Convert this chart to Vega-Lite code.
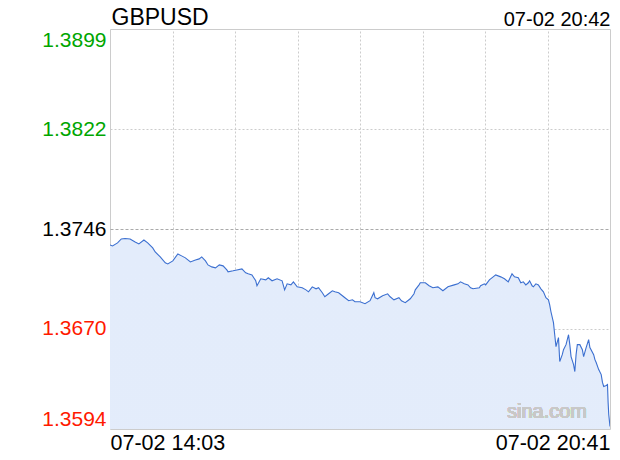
{
  "$schema": "https://vega.github.io/schema/vega-lite/v6.json",
  "autosize": {"type": "none"},
  "width": 500,
  "height": 400,
  "padding": {"left": 110, "top": 29, "right": 10, "bottom": 31},
  "background": "white",
  "config": {
    "font": "Liberation Sans",
    "view": {"stroke": "#cccccc", "strokeWidth": 1}
  },
  "data": {
    "values": [
      {"t": "2021-07-02T14:03", "v": 1.37338},
      {"t": "2021-07-02T14:05", "v": 1.37331},
      {"t": "2021-07-02T14:09", "v": 1.37354},
      {"t": "2021-07-02T14:12", "v": 1.37384},
      {"t": "2021-07-02T14:15", "v": 1.37388},
      {"t": "2021-07-02T14:19", "v": 1.37384},
      {"t": "2021-07-02T14:23", "v": 1.37361},
      {"t": "2021-07-02T14:26", "v": 1.37346},
      {"t": "2021-07-02T14:30", "v": 1.37376},
      {"t": "2021-07-02T14:33", "v": 1.37354},
      {"t": "2021-07-02T14:37", "v": 1.37316},
      {"t": "2021-07-02T14:39", "v": 1.37285},
      {"t": "2021-07-02T14:43", "v": 1.37247},
      {"t": "2021-07-02T14:47", "v": 1.37202},
      {"t": "2021-07-02T14:49", "v": 1.37194},
      {"t": "2021-07-02T14:53", "v": 1.37217},
      {"t": "2021-07-02T14:57", "v": 1.3727},
      {"t": "2021-07-02T15:00", "v": 1.37255},
      {"t": "2021-07-02T15:03", "v": 1.3724},
      {"t": "2021-07-02T15:07", "v": 1.37209},
      {"t": "2021-07-02T15:11", "v": 1.37224},
      {"t": "2021-07-02T15:14", "v": 1.37232},
      {"t": "2021-07-02T15:16", "v": 1.37247},
      {"t": "2021-07-02T15:19", "v": 1.37217},
      {"t": "2021-07-02T15:21", "v": 1.37186},
      {"t": "2021-07-02T15:24", "v": 1.37171},
      {"t": "2021-07-02T15:27", "v": 1.37164},
      {"t": "2021-07-02T15:30", "v": 1.37186},
      {"t": "2021-07-02T15:33", "v": 1.37179},
      {"t": "2021-07-02T15:36", "v": 1.37148},
      {"t": "2021-07-02T15:37", "v": 1.37133},
      {"t": "2021-07-02T15:41", "v": 1.37141},
      {"t": "2021-07-02T15:44", "v": 1.37148},
      {"t": "2021-07-02T15:48", "v": 1.37156},
      {"t": "2021-07-02T15:51", "v": 1.37126},
      {"t": "2021-07-02T15:53", "v": 1.37118},
      {"t": "2021-07-02T15:56", "v": 1.3711},
      {"t": "2021-07-02T15:59", "v": 1.37065},
      {"t": "2021-07-02T16:00", "v": 1.37027},
      {"t": "2021-07-02T16:03", "v": 1.3708},
      {"t": "2021-07-02T16:07", "v": 1.37072},
      {"t": "2021-07-02T16:09", "v": 1.37088},
      {"t": "2021-07-02T16:12", "v": 1.37065},
      {"t": "2021-07-02T16:16", "v": 1.3708},
      {"t": "2021-07-02T16:20", "v": 1.37065},
      {"t": "2021-07-02T16:22", "v": 1.36996},
      {"t": "2021-07-02T16:24", "v": 1.37042},
      {"t": "2021-07-02T16:27", "v": 1.37034},
      {"t": "2021-07-02T16:29", "v": 1.37057},
      {"t": "2021-07-02T16:32", "v": 1.37019},
      {"t": "2021-07-02T16:36", "v": 1.37012},
      {"t": "2021-07-02T16:39", "v": 1.36996},
      {"t": "2021-07-02T16:41", "v": 1.36981},
      {"t": "2021-07-02T16:44", "v": 1.37019},
      {"t": "2021-07-02T16:47", "v": 1.37004},
      {"t": "2021-07-02T16:49", "v": 1.37012},
      {"t": "2021-07-02T16:52", "v": 1.36974},
      {"t": "2021-07-02T16:54", "v": 1.36943},
      {"t": "2021-07-02T16:57", "v": 1.36966},
      {"t": "2021-07-02T17:00", "v": 1.36989},
      {"t": "2021-07-02T17:02", "v": 1.36981},
      {"t": "2021-07-02T17:05", "v": 1.36974},
      {"t": "2021-07-02T17:08", "v": 1.36951},
      {"t": "2021-07-02T17:10", "v": 1.36936},
      {"t": "2021-07-02T17:13", "v": 1.36913},
      {"t": "2021-07-02T17:16", "v": 1.3692},
      {"t": "2021-07-02T17:18", "v": 1.36905},
      {"t": "2021-07-02T17:22", "v": 1.36905},
      {"t": "2021-07-02T17:26", "v": 1.3689},
      {"t": "2021-07-02T17:30", "v": 1.36913},
      {"t": "2021-07-02T17:33", "v": 1.36974},
      {"t": "2021-07-02T17:34", "v": 1.36936},
      {"t": "2021-07-02T17:36", "v": 1.36928},
      {"t": "2021-07-02T17:40", "v": 1.36951},
      {"t": "2021-07-02T17:44", "v": 1.36966},
      {"t": "2021-07-02T17:46", "v": 1.36943},
      {"t": "2021-07-02T17:49", "v": 1.3692},
      {"t": "2021-07-02T17:53", "v": 1.36936},
      {"t": "2021-07-02T17:55", "v": 1.36913},
      {"t": "2021-07-02T17:58", "v": 1.36898},
      {"t": "2021-07-02T18:00", "v": 1.36913},
      {"t": "2021-07-02T18:02", "v": 1.36928},
      {"t": "2021-07-02T18:05", "v": 1.36966},
      {"t": "2021-07-02T18:06", "v": 1.36996},
      {"t": "2021-07-02T18:09", "v": 1.37034},
      {"t": "2021-07-02T18:10", "v": 1.3705},
      {"t": "2021-07-02T18:14", "v": 1.3705},
      {"t": "2021-07-02T18:17", "v": 1.37027},
      {"t": "2021-07-02T18:20", "v": 1.37012},
      {"t": "2021-07-02T18:24", "v": 1.37019},
      {"t": "2021-07-02T18:28", "v": 1.36989},
      {"t": "2021-07-02T18:32", "v": 1.37019},
      {"t": "2021-07-02T18:37", "v": 1.37034},
      {"t": "2021-07-02T18:40", "v": 1.37042},
      {"t": "2021-07-02T18:42", "v": 1.37057},
      {"t": "2021-07-02T18:45", "v": 1.37042},
      {"t": "2021-07-02T18:48", "v": 1.37034},
      {"t": "2021-07-02T18:50", "v": 1.37012},
      {"t": "2021-07-02T18:52", "v": 1.37004},
      {"t": "2021-07-02T18:57", "v": 1.37012},
      {"t": "2021-07-02T18:58", "v": 1.37027},
      {"t": "2021-07-02T19:01", "v": 1.37042},
      {"t": "2021-07-02T19:02", "v": 1.37034},
      {"t": "2021-07-02T19:05", "v": 1.37072},
      {"t": "2021-07-02T19:08", "v": 1.37095},
      {"t": "2021-07-02T19:10", "v": 1.3711},
      {"t": "2021-07-02T19:14", "v": 1.37095},
      {"t": "2021-07-02T19:17", "v": 1.3708},
      {"t": "2021-07-02T19:20", "v": 1.37057},
      {"t": "2021-07-02T19:23", "v": 1.37118},
      {"t": "2021-07-02T19:25", "v": 1.37095},
      {"t": "2021-07-02T19:28", "v": 1.37088},
      {"t": "2021-07-02T19:30", "v": 1.3705},
      {"t": "2021-07-02T19:32", "v": 1.37057},
      {"t": "2021-07-02T19:34", "v": 1.37034},
      {"t": "2021-07-02T19:36", "v": 1.3705},
      {"t": "2021-07-02T19:37", "v": 1.37065},
      {"t": "2021-07-02T19:39", "v": 1.37027},
      {"t": "2021-07-02T19:40", "v": 1.37019},
      {"t": "2021-07-02T19:42", "v": 1.37042},
      {"t": "2021-07-02T19:44", "v": 1.37034},
      {"t": "2021-07-02T19:46", "v": 1.37004},
      {"t": "2021-07-02T19:48", "v": 1.36981},
      {"t": "2021-07-02T19:50", "v": 1.36936},
      {"t": "2021-07-02T19:52", "v": 1.3692},
      {"t": "2021-07-02T19:53", "v": 1.36882},
      {"t": "2021-07-02T19:54", "v": 1.36829},
      {"t": "2021-07-02T19:56", "v": 1.36746},
      {"t": "2021-07-02T19:57", "v": 1.36654},
      {"t": "2021-07-02T19:58", "v": 1.36563},
      {"t": "2021-07-02T20:00", "v": 1.36632},
      {"t": "2021-07-02T20:01", "v": 1.36449},
      {"t": "2021-07-02T20:03", "v": 1.36502},
      {"t": "2021-07-02T20:04", "v": 1.3654},
      {"t": "2021-07-02T20:06", "v": 1.36578},
      {"t": "2021-07-02T20:08", "v": 1.36654},
      {"t": "2021-07-02T20:09", "v": 1.36578},
      {"t": "2021-07-02T20:10", "v": 1.36487},
      {"t": "2021-07-02T20:12", "v": 1.36426},
      {"t": "2021-07-02T20:13", "v": 1.36373},
      {"t": "2021-07-02T20:14", "v": 1.36502},
      {"t": "2021-07-02T20:15", "v": 1.36578},
      {"t": "2021-07-02T20:17", "v": 1.36578},
      {"t": "2021-07-02T20:19", "v": 1.3654},
      {"t": "2021-07-02T20:20", "v": 1.36487},
      {"t": "2021-07-02T20:22", "v": 1.36556},
      {"t": "2021-07-02T20:24", "v": 1.36616},
      {"t": "2021-07-02T20:25", "v": 1.36556},
      {"t": "2021-07-02T20:28", "v": 1.36502},
      {"t": "2021-07-02T20:29", "v": 1.36464},
      {"t": "2021-07-02T20:30", "v": 1.36442},
      {"t": "2021-07-02T20:32", "v": 1.36388},
      {"t": "2021-07-02T20:34", "v": 1.3635},
      {"t": "2021-07-02T20:35", "v": 1.3629},
      {"t": "2021-07-02T20:36", "v": 1.36259},
      {"t": "2021-07-02T20:38", "v": 1.36267},
      {"t": "2021-07-02T20:39", "v": 1.36274},
      {"t": "2021-07-02T20:39:30", "v": 1.36138},
      {"t": "2021-07-02T20:40", "v": 1.36046},
      {"t": "2021-07-02T20:41", "v": 1.35955}
    ]
  },
  "resolve": {"axis": {"x": "independent", "y": "independent"}},
  "layer": [
    {
      "mark": {
        "type": "area",
        "clip": true,
        "opacity": 1,
        "fillOpacity": 1,
        "fill": {
          "gradient": "linear",
          "x1": 0, "y1": 0, "x2": 0, "y2": 1,
          "stops": [
            {"offset": 0, "color": "#e3ecfb"},
            {"offset": 1, "color": "#ffffff"}
          ]
        }
      },
      "encoding": {
        "x": {
          "field": "t",
          "type": "temporal",
          "scale": {
            "domain": [
              {"year": 2021, "month": 7, "date": 2, "hours": 14, "minutes": 3},
              {"year": 2021, "month": 7, "date": 2, "hours": 20, "minutes": 41}
            ]
          },
          "axis": {
            "orient": "bottom",
            "title": null,
            "values": [
              {"year": 2021, "month": 7, "date": 2, "hours": 14, "minutes": 3},
              {"year": 2021, "month": 7, "date": 2, "hours": 20, "minutes": 41}
            ],
            "format": "%m-%d %H:%M",
            "labelFlush": true,
            "labelFontSize": 21.5,
            "labelColor": "#000000",
            "labelPadding": 3,
            "ticks": false,
            "domain": false,
            "grid": false
          }
        },
        "y": {
          "field": "v",
          "type": "quantitative",
          "scale": {"domain": [1.35935, 1.38985], "zero": false, "nice": false},
          "axis": {
            "title": "GBPUSD",
            "titleAngle": 0,
            "titleX": 1,
            "titleY": -5,
            "titleAlign": "left",
            "titleBaseline": "alphabetic",
            "titleFontSize": 23,
            "titleFontWeight": "normal",
            "titleColor": "#000000",
            "values": [1.35935, 1.367, 1.3746, 1.3822, 1.38985],
            "labelExpr": "datum.value < 1.36 ? '1.3594' : datum.value > 1.389 ? '1.3899' : format(datum.value, '.4f')",
            "labelFlush": true,
            "labelFontSize": 21,
            "labelPadding": 4,
            "labelColor": {
              "condition": [
                {"test": "datum.value > 1.3747", "value": "#00a600"},
                {"test": "datum.value < 1.3745", "value": "#ff1a00"}
              ],
              "value": "#000000"
            },
            "ticks": false,
            "domain": false,
            "grid": true,
            "gridColor": {"condition": {"test": "datum.value > 1.3745 && datum.value < 1.3747", "value": "#aaaaaa"}, "value": "#cccccc"},
            "gridDash": {"condition": {"test": "datum.value > 1.3745 && datum.value < 1.3747", "value": [3, 2]}, "value": [2, 2]},
            "gridOpacity": {"condition": {"test": "datum.value < 1.36 || datum.value > 1.389", "value": 0}, "value": 1}
          }
        }
      }
    },
    {
      "mark": {"type": "text", "align": "right", "baseline": "middle", "fontSize": 20, "color": "#c8c8c8", "text": "sina.com"},
      "encoding": {
        "x": {"datum": {"year": 2021, "month": 7, "date": 2, "hours": 20, "minutes": 22, "seconds": 40}, "type": "temporal", "axis": null},
        "y": {"datum": 1.36062, "type": "quantitative", "axis": null}
      }
    },
    {
      "mark": {"type": "line", "color": "#3b6fd0", "strokeWidth": 1.1, "clip": true},
      "encoding": {
        "x": {
          "field": "t",
          "type": "temporal",
          "axis": {
            "orient": "top",
            "title": "07-02 20:42",
            "titleX": 500,
            "titleY": -4,
            "titleAlign": "right",
            "titleAnchor": "end",
            "titleBaseline": "alphabetic",
            "titleFontSize": 20,
            "titleFontWeight": "normal",
            "titleColor": "#000000",
            "values": [
              {"year": 2021, "month": 7, "date": 2, "hours": 14, "minutes": 52, "seconds": 45},
              {"year": 2021, "month": 7, "date": 2, "hours": 15, "minutes": 42, "seconds": 30},
              {"year": 2021, "month": 7, "date": 2, "hours": 16, "minutes": 32, "seconds": 15},
              {"year": 2021, "month": 7, "date": 2, "hours": 17, "minutes": 22},
              {"year": 2021, "month": 7, "date": 2, "hours": 18, "minutes": 11, "seconds": 45},
              {"year": 2021, "month": 7, "date": 2, "hours": 19, "minutes": 1, "seconds": 30},
              {"year": 2021, "month": 7, "date": 2, "hours": 19, "minutes": 51, "seconds": 15}
            ],
            "labels": false,
            "ticks": false,
            "domain": false,
            "grid": true,
            "gridColor": "#cccccc",
            "gridDash": [2, 2]
          }
        },
        "y": {"field": "v", "type": "quantitative", "axis": null}
      }
    }
  ]
}
